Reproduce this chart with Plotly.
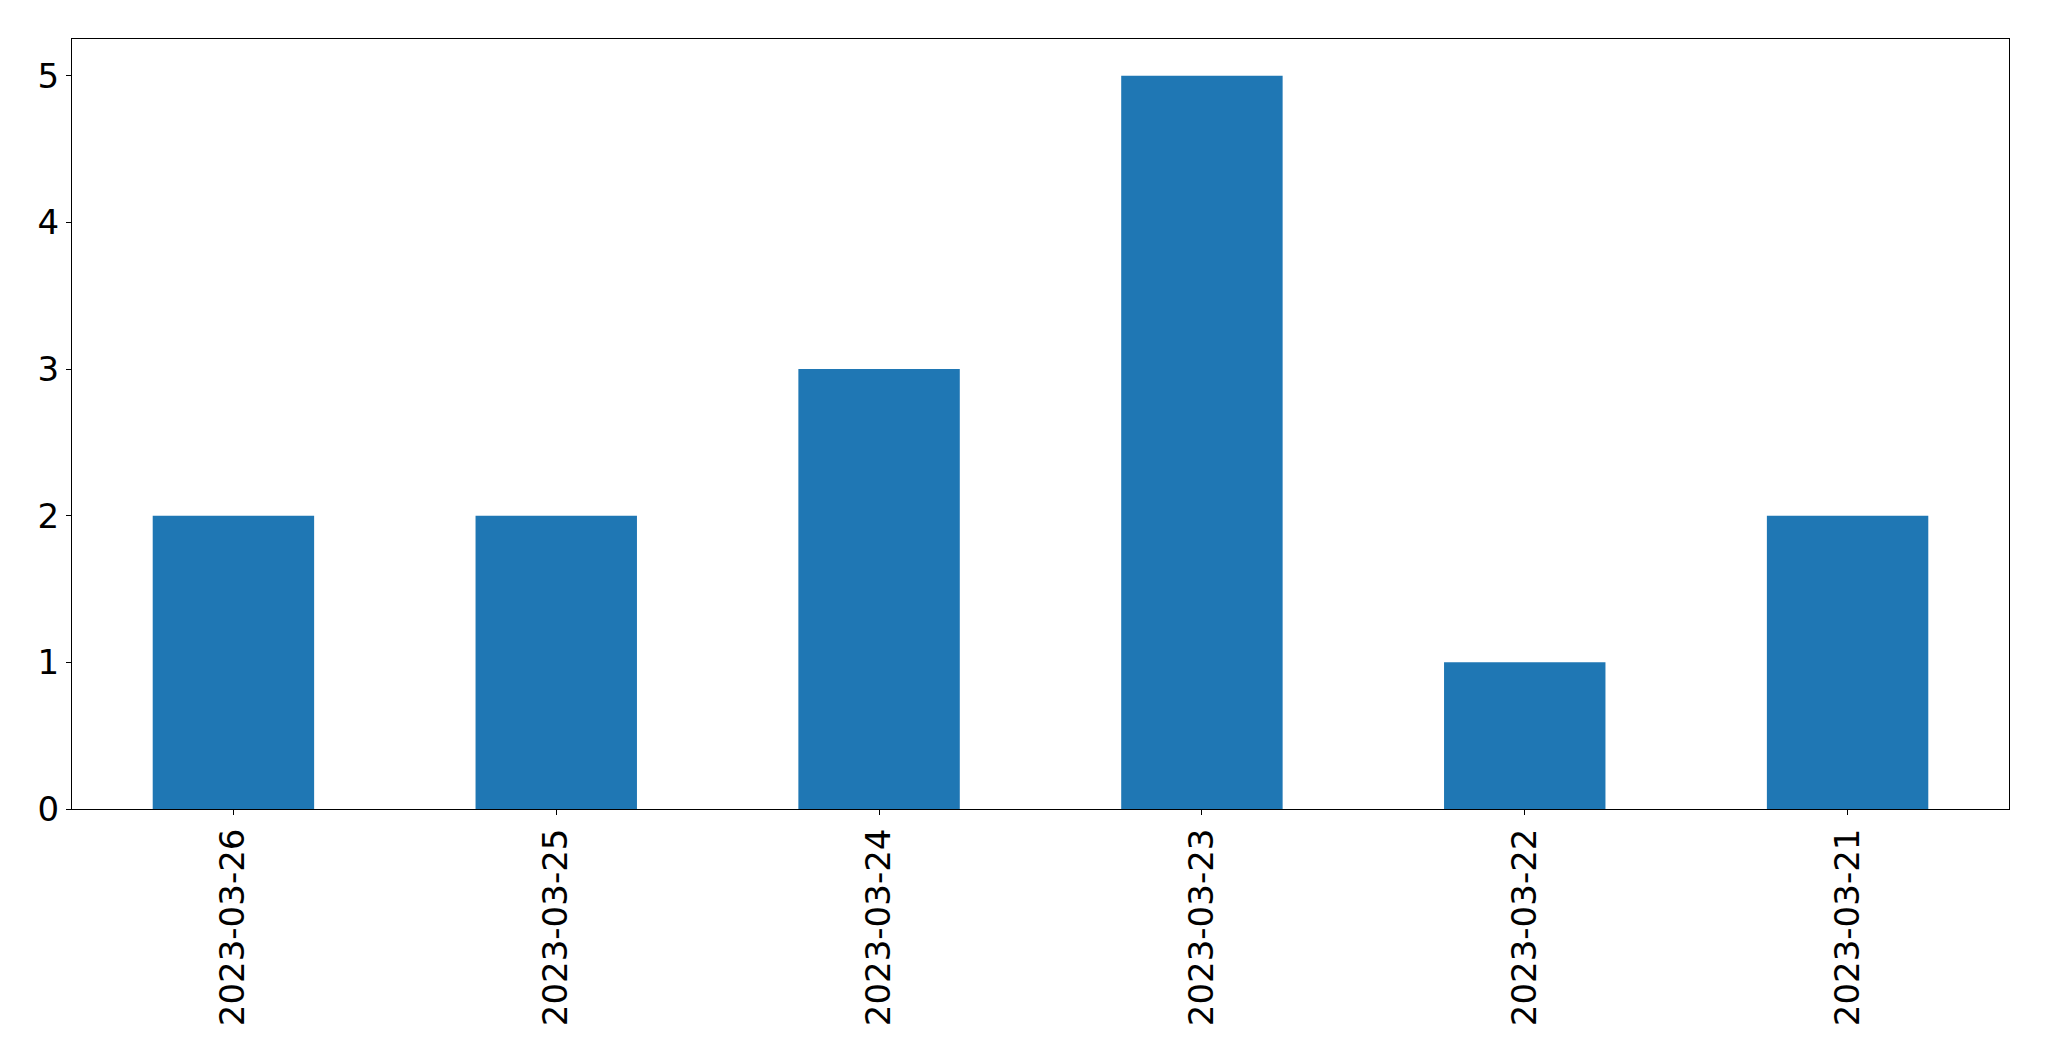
import plotly.graph_objects as go

dates = ["2023-03-26", "2023-03-25", "2023-03-24", "2023-03-23", "2023-03-22", "2023-03-21"]
counts = [2, 2, 3, 5, 1, 2]

fig = go.Figure(go.Bar(x=dates, y=counts, marker=dict(color="#1f77b4", line=dict(width=0))))

font = dict(family="DejaVu Sans", size=34, color="black")
fig.update_layout(
    width=2049, height=1061,
    margin=dict(l=64, r=48, t=31, b=260),
    paper_bgcolor="white", plot_bgcolor="white",
    bargap=0.5, showlegend=False, font=font,
)
fig.update_xaxes(
    type="category", range=[-0.5, 5.5], tickangle=-90,
    showline=True, linecolor="black", linewidth=1, mirror=True,
    ticks="outside", ticklen=5, tickcolor="black", tickwidth=1,
    showgrid=False, zeroline=False, tickfont=font,
)
fig.update_yaxes(
    range=[0, 5.25], tickvals=[0, 1, 2, 3, 4, 5],
    showline=True, linecolor="black", linewidth=1, mirror=True,
    ticks="outside", ticklen=5, tickcolor="black", tickwidth=1,
    showgrid=False, zeroline=False, tickfont=font,
)
fig.write_html("out.html")
